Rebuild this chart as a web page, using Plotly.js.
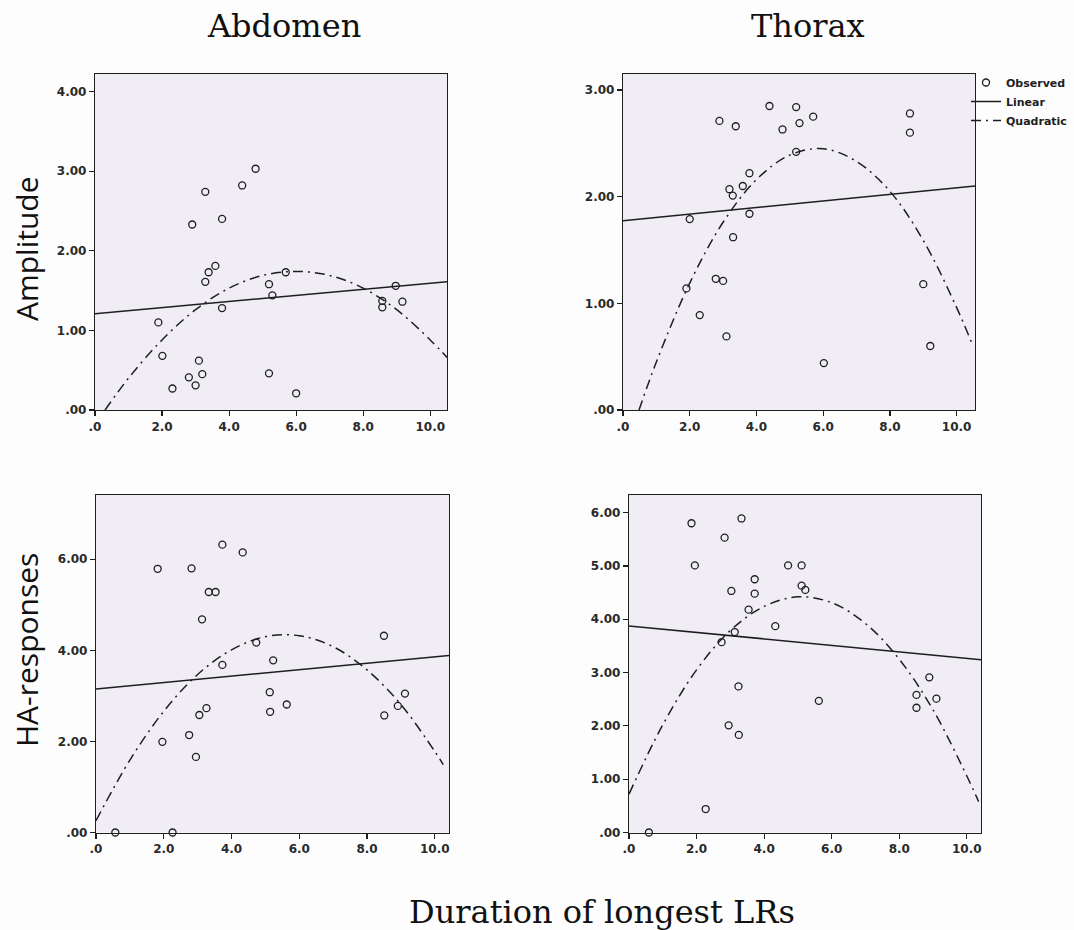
<!DOCTYPE html>
<html>
<head>
<meta charset="utf-8">
<script src="https://cdn.plot.ly/plotly-3.0.1.min.js"></script>
<style>html,body{margin:0;padding:0;background:#fdfdfd;}#chart{width:1074px;height:930px;}</style>
</head>
<body>
<div id="chart"></div>
<script>
// ---- Observed data (duration of longest LRs vs response) ----
const ampAbdX = [1.89,2.01,2.31,2.80,2.90,3.00,3.10,3.20,3.29,3.29,3.39,3.59,3.79,3.79,4.39,4.79,5.19,5.19,5.29,5.69,6.00,8.57,8.57,8.97,9.17];
const ampAbdY = [1.10,0.68,0.27,0.41,2.33,0.31,0.62,0.45,2.74,1.61,1.73,1.81,2.40,1.28,2.82,3.03,1.58,0.46,1.44,1.73,0.21,1.37,1.29,1.56,1.36];

const ampThoX = [1.90,2.00,2.30,2.78,2.89,3.00,3.10,3.19,3.29,3.30,3.38,3.59,3.79,3.79,4.39,4.78,5.19,5.19,5.29,5.70,6.02,8.60,8.60,9.00,9.21];
const ampThoY = [1.14,1.79,0.89,1.23,2.71,1.21,0.69,2.07,2.01,1.62,2.66,2.10,2.22,1.84,2.85,2.63,2.84,2.42,2.69,2.75,0.44,2.78,2.60,1.18,0.60];

const haAbdX = [0.57,1.82,1.96,2.26,2.75,2.82,2.95,3.05,3.13,3.26,3.33,3.53,3.73,3.73,4.33,4.73,5.13,5.14,5.23,5.63,8.50,8.51,8.91,9.12];
const haAbdY = [0.00,5.79,1.99,0.00,2.14,5.80,1.66,2.58,4.68,2.73,5.28,5.28,6.32,3.68,6.15,4.17,3.08,2.65,3.78,2.81,4.32,2.57,2.78,3.05];

const haThoX = [0.59,1.85,1.95,2.27,2.74,2.83,2.95,3.03,3.13,3.24,3.25,3.33,3.54,3.72,3.72,4.33,4.71,5.11,5.11,5.22,5.62,8.51,8.51,8.89,9.10];
const haThoY = [0.00,5.80,5.01,0.44,3.57,5.53,2.01,4.53,3.76,2.74,1.83,5.89,4.18,4.75,4.48,3.87,5.01,5.01,4.63,4.55,2.47,2.58,2.34,2.91,2.51];

// ---- Fitted lines ----
const linAbdAmpX = [0, 10.5],  linAbdAmpY = [1.21, 1.61];
const linThoAmpX = [0, 10.55], linThoAmpY = [1.775, 2.10];
const linAbdHaX  = [0, 10.42], linAbdHaY  = [3.15, 3.885];
const linThoHaX  = [0, 10.42], linThoHaY  = [3.875, 3.24];

const quadAbdAmpX = [0.3,1,2,3,4,5,6,7,8,9,10,10.5];
const quadAbdAmpY = [0,0.40,0.88,1.26,1.53,1.69,1.74,1.69,1.53,1.26,0.88,0.66];
const quadThoAmpX = [0.48,1,2,3,4,5,6,7,8,9,10,10.45];
const quadThoAmpY = [0,0.45,1.19,1.76,2.16,2.39,2.45,2.33,2.05,1.59,0.96,0.63];
const quadAbdHaX  = [0,1,2,3,4,5,6,7,8,9,10,10.25];
const quadAbdHaY  = [0.26,1.59,2.66,3.47,4.01,4.30,4.32,4.08,3.57,2.81,1.78,1.49];
const quadThoHaX  = [0,1,2,3,4,5,6,7,8,9,10,10.35];
const quadThoHaY  = [0.72,2.02,3.05,3.79,4.24,4.42,4.31,3.92,3.25,2.30,1.06,0.58];

// ---- Tick labels ----
const xTickVals = [0,2,4,6,8,10];
const xTickText = ['.0','2.0','4.0','6.0','8.0','10.0'];
const yTickValsAmpAbd = [0,1,2,3,4];
const yTickTextAmpAbd = ['.00','1.00','2.00','3.00','4.00'];
const yTickValsAmpTho = [0,1,2,3];
const yTickTextAmpTho = ['.00','1.00','2.00','3.00'];
const yTickValsHaAbd = [0,2,4,6];
const yTickTextHaAbd = ['.00','2.00','4.00','6.00'];
const yTickValsHaTho = [0,1,2,3,4,5,6];
const yTickTextHaTho = ['.00','1.00','2.00','3.00','4.00','5.00','6.00'];

const ink = '#1e1e1e';
const dashDot = '10px,5px,2px,5px';

function obs(x, y, xa, ya, show) {
  return {x: x, y: y, xaxis: xa, yaxis: ya, type: 'scatter', mode: 'markers', name: 'Observed',
    legendgroup: 'obs', showlegend: show, cliponaxis: false,
    marker: {symbol: 'circle-open', size: 7, color: ink, line: {width: 1.3, color: ink}}, hoverinfo: 'x+y'};
}
function lin(x, y, xa, ya, show) {
  return {x: x, y: y, xaxis: xa, yaxis: ya, type: 'scatter', mode: 'lines', name: 'Linear',
    legendgroup: 'lin', showlegend: show, line: {color: ink, width: 1.5}};
}
function quad(x, y, xa, ya, show) {
  return {x: x, y: y, xaxis: xa, yaxis: ya, type: 'scatter', mode: 'lines', name: 'Quadratic',
    legendgroup: 'quad', showlegend: show, line: {color: ink, width: 1.5, dash: dashDot, shape: 'spline'}};
}

const data = [
  obs(ampAbdX, ampAbdY, 'x', 'y', false),
  lin(linAbdAmpX, linAbdAmpY, 'x', 'y', false),
  quad(quadAbdAmpX, quadAbdAmpY, 'x', 'y', false),
  obs(ampThoX, ampThoY, 'x2', 'y2', true),
  lin(linThoAmpX, linThoAmpY, 'x2', 'y2', true),
  quad(quadThoAmpX, quadThoAmpY, 'x2', 'y2', true),
  obs(haAbdX, haAbdY, 'x3', 'y3', false),
  lin(linAbdHaX, linAbdHaY, 'x3', 'y3', false),
  quad(quadAbdHaX, quadAbdHaY, 'x3', 'y3', false),
  obs(haThoX, haThoY, 'x4', 'y4', false),
  lin(linThoHaX, linThoHaY, 'x4', 'y4', false),
  quad(quadThoHaX, quadThoHaY, 'x4', 'y4', false)
];

const W = 1074, H = 930;
const tickFont = {family: 'DejaVu Sans', size: 12, color: '#2a2a2a', weight: 'bold'};
function xa(d, range, anchor) {
  return {domain: d, range: range, anchor: anchor, tickvals: xTickVals, ticktext: xTickText,
    ticks: 'outside', ticklen: 5, tickwidth: 1.2, tickcolor: ink, showline: true, linecolor: ink,
    linewidth: 1.2, mirror: true, showgrid: false, zeroline: false, tickfont: tickFont, fixedrange: true};
}
function ya(d, range, anchor, tv, tt) {
  return {domain: d, range: range, anchor: anchor, tickvals: tv, ticktext: tt,
    ticks: 'outside', ticklen: 5, tickwidth: 1.2, tickcolor: ink, showline: true, linecolor: ink,
    linewidth: 1.2, mirror: true, showgrid: false, zeroline: false, tickfont: tickFont, fixedrange: true};
}
const topY = [1 - 410/H, 1 - 74/H];
const botY = [1 - 832.5/H, 1 - 495/H];

const serif = {family: 'DejaVu Serif', size: 32, color: '#111'};
const sans = {family: 'Open Sans', size: 30, color: '#111'};

const layout = {
  width: W, height: H,
  margin: {l: 0, r: 0, t: 0, b: 0},
  paper_bgcolor: '#fdfdfd',
  plot_bgcolor: '#f0eef4',
  showlegend: true,
  legend: {x: 966/W, y: 1 - 68/H, xanchor: 'left', yanchor: 'top', bgcolor: 'rgba(0,0,0,0)',
    font: {family: 'DejaVu Sans', size: 11, color: ink, weight: 'bold'}, itemwidth: 30, tracegroupgap: 0},
  xaxis:  xa([95/W, 447/W], [0, 10.5], 'y'),
  yaxis:  ya(topY, [0, 4.22], 'x', yTickValsAmpAbd, yTickTextAmpAbd),
  xaxis2: xa([623/W, 975/W], [0, 10.55], 'y2'),
  yaxis2: ya(topY, [0, 3.15], 'x2', yTickValsAmpTho, yTickTextAmpTho),
  xaxis3: xa([96/W, 449/W], [0, 10.42], 'y3'),
  yaxis3: ya(botY, [0, 7.41], 'x3', yTickValsHaAbd, yTickTextHaAbd),
  xaxis4: xa([629/W, 981/W], [0, 10.42], 'y4'),
  yaxis4: ya(botY, [0, 6.33], 'x4', yTickValsHaTho, yTickTextHaTho),
  annotations: [
    {text: 'Abdomen', x: 284/W, y: 1 - 26/H, xref: 'paper', yref: 'paper', xanchor: 'center', yanchor: 'middle', showarrow: false, font: serif},
    {text: 'Thorax', x: 808/W, y: 1 - 26/H, xref: 'paper', yref: 'paper', xanchor: 'center', yanchor: 'middle', showarrow: false, font: serif},
    {text: 'Amplitude', x: 26/W, y: 1 - 249/H, xref: 'paper', yref: 'paper', xanchor: 'center', yanchor: 'middle', textangle: -90, showarrow: false, font: sans},
    {text: 'HA-responses', x: 26/W, y: 1 - 650/H, xref: 'paper', yref: 'paper', xanchor: 'center', yanchor: 'middle', textangle: -90, showarrow: false, font: sans},
    {text: 'Duration of longest LRs', x: 407/W, y: 1 - 912/H, xref: 'paper', yref: 'paper', xanchor: 'left', yanchor: 'middle', showarrow: false, font: serif}
  ]
};

Plotly.newPlot('chart', data, layout, {displayModeBar: false, staticPlot: true});
</script>
</body>
</html>
